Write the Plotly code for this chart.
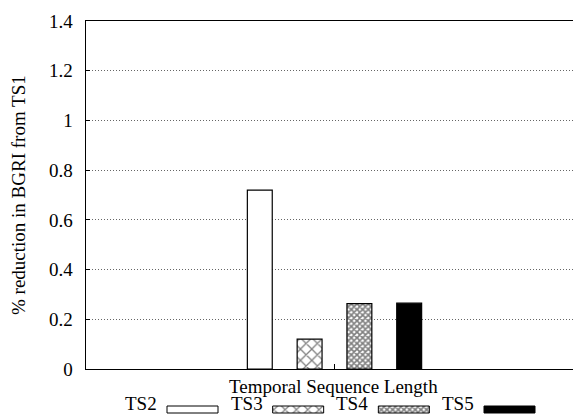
import plotly.graph_objects as go

series = ["TS2", "TS3", "TS4", "TS5"]
values = [0.72, 0.12, 0.263, 0.265]
bar_pos = [-0.3, -0.1, 0.1, 0.3]
y_ticks = [0, 0.2, 0.4, 0.6, 0.8, 1, 1.2, 1.4]
y_ticklabels = ["0", "0.2", "0.4", "0.6", "0.8", "1", "1.2", "1.4"]
x_title = "Temporal Sequence Length"
y_title = "% reduction in BGRI from TS1"

FONT = "Liberation Serif"
FS = 19
VW, VH = 581, 416          # browser window
OX, OY = 8, 8              # default page body margin
W, H = VW - OX, VH - OY    # figure size
styles = [
    dict(color="white", pattern=None),
    dict(color="white", pattern=dict(shape="x", size=8, solidity=0.3, fgcolor="black", bgcolor="white", fillmode="overlay")),
    dict(color="white", pattern=dict(shape="x", size=4, solidity=0.65, fgcolor="black", bgcolor="white", fillmode="overlay")),
    dict(color="black", pattern=None),
]

fig = go.Figure()
for name, x, v, st in zip(series, bar_pos, values, styles):
    marker = dict(color=st["color"], line=dict(color="black", width=1.2))
    if st["pattern"]:
        marker["pattern"] = st["pattern"]
    fig.add_trace(go.Bar(x=[x], y=[v], width=0.1, name=name, marker=marker, showlegend=False))

# custom legend (label left of sample) on a full-window pixel axis
step = 105.67
box_w, box_y0, box_y1 = 51, 406, 413
for i, (name, st) in enumerate(zip(series, styles)):
    tx = 123 + step * i
    bx = 167 + step * i
    kw = {}
    if st["pattern"]:
        kw["fillpattern"] = st["pattern"]
    fig.add_trace(go.Scatter(
        x=[bx, bx + box_w, bx + box_w, bx, bx], y=[box_y0, box_y0, box_y1, box_y1, box_y0],
        mode="lines", fill="toself", fillcolor=st["color"], line=dict(color="black", width=1),
        xaxis="x2", yaxis="y2", showlegend=False, hoverinfo="skip", **kw))
    fig.add_annotation(x=tx, y=VH, xref="x2", yref="y2", text=name, showarrow=False,
                       xanchor="left", yanchor="bottom", font=dict(family=FONT, size=FS, color="black"))

fig.add_annotation(x=333, y=386, xref="x2", yref="y2", text=x_title, showarrow=False,
                   xanchor="center", yanchor="middle", font=dict(family=FONT, size=FS, color="black"))
fig.add_annotation(x=18, y=195, xref="x2", yref="y2", text=y_title, showarrow=False, textangle=-90,
                   xanchor="center", yanchor="middle", font=dict(family=FONT, size=FS, color="black"))

plot_l, plot_t, plot_b = 85.5, 21, 369
fig.update_layout(
    width=W, height=H,
    margin=dict(l=0, r=0, t=0, b=0),
    paper_bgcolor="white", plot_bgcolor="rgba(0,0,0,0)",
    font=dict(family=FONT, size=FS, color="black"),
    barmode="overlay",
    xaxis=dict(domain=[(plot_l - OX) / W, 1], anchor="y", automargin=False,
               range=[-1, 0.99], showline=True, linecolor="black", linewidth=1, mirror=True,
               tickvals=[0], ticks="inside", ticklen=5, tickcolor="black", showticklabels=False,
               showgrid=False, zeroline=False),
    yaxis=dict(domain=[(VH - plot_b) / H, (VH - plot_t) / H], anchor="x", automargin=False,
               range=[0, 1.4], showline=True, linecolor="black", linewidth=1, mirror=False,
               tickvals=y_ticks, ticktext=y_ticklabels, ticks="inside", ticklen=4, tickcolor="black",
               ticklabelstandoff=8, tickfont=dict(family=FONT, size=FS),
               showgrid=True, gridcolor="#666", griddash="1px,2px", gridwidth=1, zeroline=False),
    xaxis2=dict(domain=[0, 1], range=[OX, VW], visible=False, anchor="y2", fixedrange=True),
    yaxis2=dict(domain=[0, 1], range=[VH, OY], visible=False, anchor="x2", fixedrange=True),
)
fig.write_html("out.html")
